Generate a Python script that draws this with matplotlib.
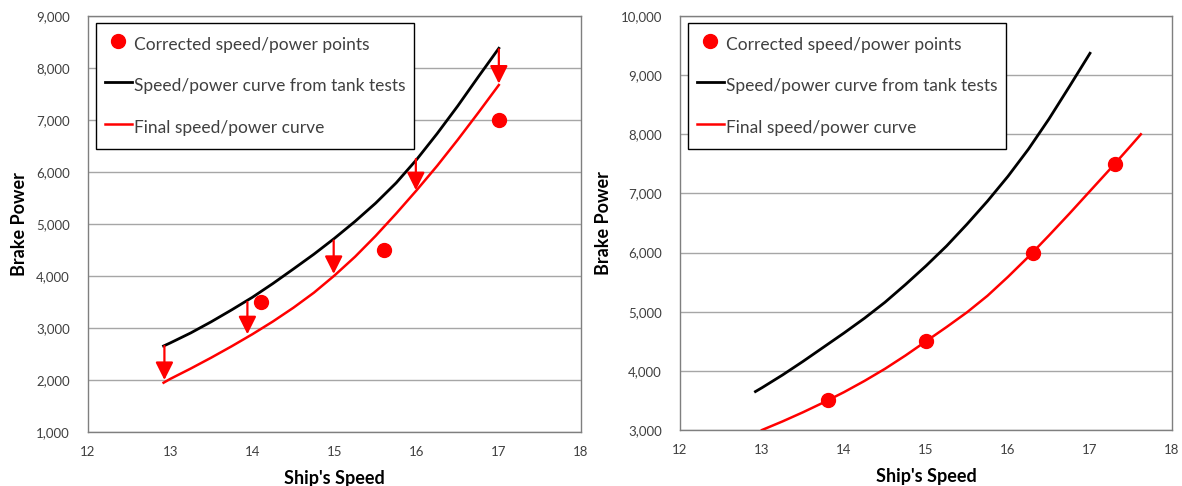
import matplotlib
matplotlib.use("Agg")
import matplotlib.pyplot as plt
from matplotlib.ticker import StrMethodFormatter, MultipleLocator

plt.rcParams['font.family'] = ['Lato', 'DejaVu Sans']

# --- left chart: tank-test curve, final curve and correction arrows ---
left_tank_speed = [12.92, 13.0, 13.25, 13.5, 13.75, 14.0, 14.25, 14.5, 14.75,
                   15.0, 15.25, 15.5, 15.75, 16.0, 16.25, 16.5, 16.75, 17.0]
left_tank_power = [2654, 2712, 2905, 3120, 3350, 3590, 3855, 4135, 4420,
                   4725, 5050, 5400, 5790, 6240, 6740, 7270, 7830, 8379]
left_final_speed = [12.92, 13.0, 13.25, 13.5, 13.75, 14.0, 14.25, 14.5, 14.75,
                    15.0, 15.25, 15.5, 15.75, 16.0, 16.25, 16.5, 16.75, 17.0]
left_final_power = [1948, 2020, 2220, 2430, 2650, 2880, 3125, 3390, 3680,
                    4010, 4370, 4770, 5200, 5650, 6120, 6620, 7140, 7673]
left_pts_speed = [14.1, 15.6, 17.0]
left_pts_power = [3500, 4500, 7000]
arrow_speed = [12.93, 13.94, 14.99, 15.99, 17.0]
arrow_from = [2654, 3500, 4680, 6250, 8360]
arrow_to = [2000, 2880, 4040, 5650, 7700]

# --- right chart ---
right_tank_speed = [12.92, 13.0, 13.25, 13.5, 13.75, 14.0, 14.25, 14.5, 14.75,
                    15.0, 15.25, 15.5, 15.75, 16.0, 16.25, 16.5, 16.75, 17.0]
right_tank_power = [3650, 3715, 3930, 4160, 4400, 4640, 4890, 5160, 5460,
                    5775, 6110, 6480, 6870, 7290, 7750, 8260, 8810, 9370]
right_final_speed = [13.0, 13.25, 13.5, 13.75, 14.0, 14.25, 14.5, 14.75, 15.0, 15.25,
                     15.5, 15.75, 16.0, 16.25, 16.5, 16.75, 17.0, 17.25, 17.5, 17.62]
right_final_power = [3000, 3145, 3300, 3465, 3640, 3830, 4035, 4260, 4500, 4740,
                     4990, 5270, 5590, 5930, 6290, 6660, 7040, 7420, 7810, 8000]
right_pts_speed = [13.8, 15.0, 16.3, 17.3]
right_pts_power = [3500, 4500, 6000, 7500]

labels = ["Corrected speed/power points",
          "Speed/power curve from tank tests",
          "Final speed/power curve"]

W, H = 1182, 486
fig = plt.figure(figsize=(W / 100, H / 100), dpi=100)
ax1 = fig.add_axes([88 / W, (H - 432) / H, 493 / W, 416 / H])
ax2 = fig.add_axes([680 / W, (H - 430) / H, 492 / W, 414 / H])


def style_axes(ax, ylo, yhi):
    ax.set_xlim(12, 18)
    ax.set_ylim(ylo, yhi)
    ax.xaxis.set_major_locator(MultipleLocator(1))
    ax.yaxis.set_major_locator(MultipleLocator(1000))
    ax.yaxis.set_major_formatter(StrMethodFormatter('{x:,.0f}'))
    ax.grid(axis='y', color='#a6a6a6', lw=1.0)
    ax.set_axisbelow(True)
    for s in ax.spines.values():
        s.set_color('#7f7f7f')
        s.set_linewidth(1.0)
    ax.tick_params(axis='both', length=0, labelsize=9.5, colors='#404040')
    ax.tick_params(axis='y', pad=13)
    ax.tick_params(axis='x', pad=10)
    ax.set_xlabel("Ship's Speed", fontsize=13, fontweight='bold', labelpad=9)
    ax.set_ylabel("Brake Power", fontsize=13, fontweight='bold', labelpad=6)


def add_legend(ax, h):
    leg = ax.legend(h, labels, loc='upper left', bbox_to_anchor=(0.016, 0.983),
                    borderaxespad=0, fontsize=12.5, frameon=True, fancybox=False,
                    edgecolor='black', framealpha=1, labelspacing=0.9,
                    handleheight=1.9, handlelength=1.6, handletextpad=0.1,
                    borderpad=0.5, labelcolor='#404040')
    leg.get_frame().set_linewidth(1.0)


# left
style_axes(ax1, 1000, 9000)
p, = ax1.plot(left_pts_speed, left_pts_power, 'o', color='red', ms=10, ls='none', zorder=4)
b, = ax1.plot(left_tank_speed, left_tank_power, color='black', lw=2.0, zorder=3)
r, = ax1.plot(left_final_speed, left_final_power, color='red', lw=1.8, zorder=3)
for x, y0, y1 in zip(arrow_speed, arrow_from, arrow_to):
    ax1.annotate('', xy=(x, y1), xytext=(x, y0),
                 arrowprops=dict(arrowstyle='-|>,head_length=0.4,head_width=0.2',
                                 color='red', lw=1.6, mutation_scale=27,
                                 shrinkA=0, shrinkB=0), zorder=5)
add_legend(ax1, [p, b, r])

# right
style_axes(ax2, 3000, 10000)
p2, = ax2.plot(right_pts_speed, right_pts_power, 'o', color='red', ms=10, ls='none', zorder=4)
b2, = ax2.plot(right_tank_speed, right_tank_power, color='black', lw=2.0, zorder=3)
r2, = ax2.plot(right_final_speed, right_final_power, color='red', lw=1.8, zorder=3)
add_legend(ax2, [p2, b2, r2])

fig.savefig('out.png', dpi=100)
